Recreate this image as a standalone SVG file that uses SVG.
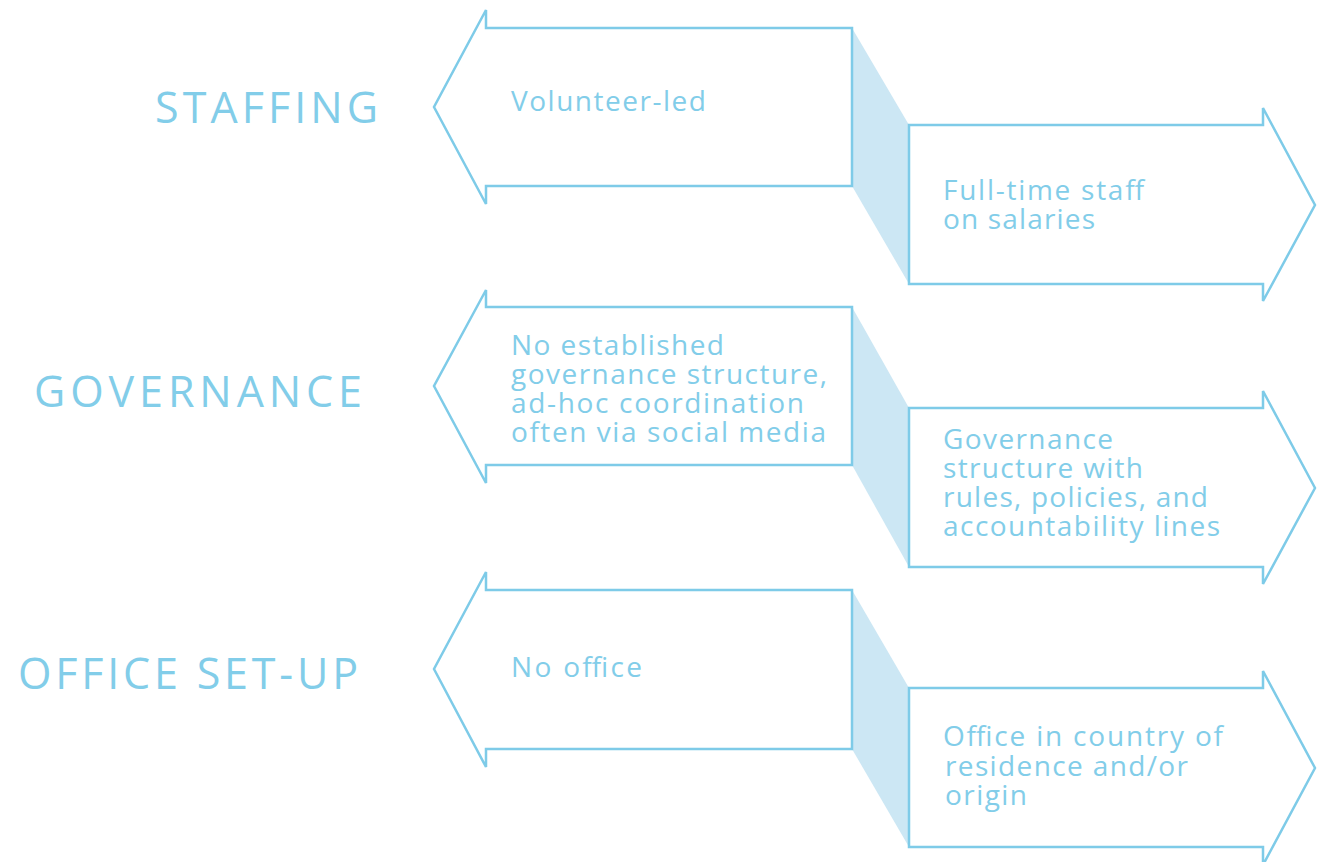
<svg xmlns="http://www.w3.org/2000/svg" width="1319" height="862" viewBox="0 0 1319 862">
<style>
.arrow{fill:#ffffff;stroke:#7ecbe8;stroke-width:2.5;stroke-linejoin:miter}
.shade{fill:#cce7f4;stroke:none}
.t{font-family:"Open Sans","Liberation Sans",sans-serif;font-size:28px;font-weight:400;fill:#82cde9}
.lbl{font-family:"Open Sans","Liberation Sans",sans-serif;font-size:43px;font-weight:400;fill:#82cde9}
</style>
<rect width="1319" height="862" fill="#ffffff"/>
<g id="connectors">
<polygon class="shade" points="852,28 909,125 909,284 852,186"/>
<polygon class="shade" points="852,307 909,408 909,567 852,465"/>
<polygon class="shade" points="852,590 909,688 909,847 852,749"/>
</g>
<g id="staffing-label"><text class="lbl" x="155" y="123" textLength="223" lengthAdjust="spacing">STAFFING</text></g>
<g id="governance-label"><text class="lbl" x="34" y="407" textLength="328" lengthAdjust="spacing">GOVERNANCE</text></g>
<g id="office-label"><text class="lbl" x="18" y="689" textLength="340" lengthAdjust="spacing">OFFICE SET-UP</text></g>
<g id="staffing-left">
<polygon class="arrow" points="486,28 852,28 852,186 486,186 486,204 434,107 486,10"/>
<text class="t" x="511" y="111" textLength="195" lengthAdjust="spacing">Volunteer-led</text>
</g>
<g id="staffing-right">
<polygon class="arrow" points="909,125 1263,125 1263,108 1315,205 1263,301 1263,284 909,284"/>
<text class="t" x="943" y="200" textLength="201" lengthAdjust="spacing">Full-time staff</text>
<text class="t" x="943" y="229" textLength="152" lengthAdjust="spacing">on salaries</text>
</g>
<g id="governance-left">
<polygon class="arrow" points="486,307 852,307 852,465 486,465 486,483 434,386 486,290"/>
<text class="t" x="511" y="355" textLength="213" lengthAdjust="spacing">No established</text>
<text class="t" x="511" y="384" textLength="316" lengthAdjust="spacing">governance structure,</text>
<text class="t" x="511" y="413" textLength="293" lengthAdjust="spacing">ad-hoc coordination</text>
<text class="t" x="511" y="442" textLength="315" lengthAdjust="spacing">often via social media</text>
</g>
<g id="governance-right">
<polygon class="arrow" points="909,408 1263,408 1263,391 1315,488 1263,584 1263,567 909,567"/>
<text class="t" x="943" y="449" textLength="170" lengthAdjust="spacing">Governance</text>
<text class="t" x="943" y="478" textLength="200" lengthAdjust="spacing">structure with</text>
<text class="t" x="943" y="507" textLength="265" lengthAdjust="spacing">rules, policies, and</text>
<text class="t" x="943" y="536" textLength="277" lengthAdjust="spacing">accountability lines</text>
</g>
<g id="office-left">
<polygon class="arrow" points="486,590 852,590 852,749 486,749 486,767 434,669 486,572"/>
<text class="t" x="511" y="677" textLength="131" lengthAdjust="spacing">No office</text>
</g>
<g id="office-right">
<polygon class="arrow" points="909,688 1263,688 1263,671 1315,768 1263,865 1263,847 909,847"/>
<text class="t" x="943" y="746" textLength="280" lengthAdjust="spacing">Office in country of</text>
<text class="t" x="945" y="776" textLength="243" lengthAdjust="spacing">residence and/or</text>
<text class="t" x="945" y="805" textLength="82" lengthAdjust="spacing">origin</text>
</g>
</svg>
